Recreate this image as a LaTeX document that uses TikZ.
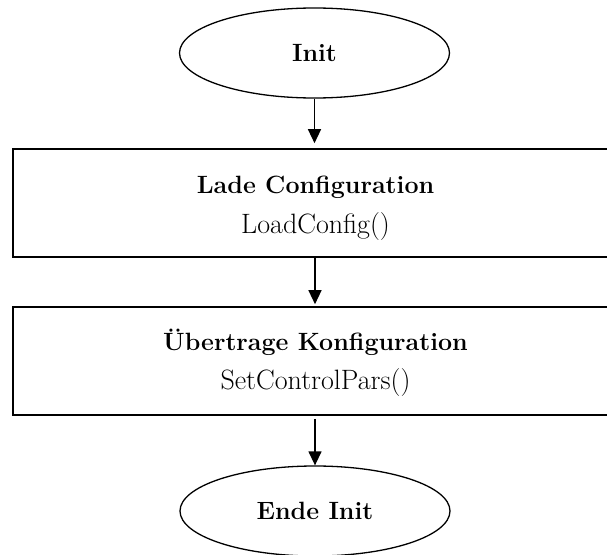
\documentclass[tikz,border=0pt]{standalone}
\usetikzlibrary{shapes.geometric,arrows.meta}
\begin{document}
\begin{tikzpicture}[x=1pt,y=-1pt,
  termnode/.style={ellipse, draw, line width=1.3pt, minimum width=270pt, minimum height=90pt, inner sep=0pt, font=\fontsize{25}{30}\selectfont\bfseries},
  procbox/.style={draw, line width=1.6pt, minimum width=605.6pt, minimum height=108pt, inner sep=0pt},
  headtxt/.style={anchor=base, inner sep=0pt, font=\fontsize{25}{30}\selectfont\bfseries},
  subtxt/.style={anchor=base, inner sep=0pt, font=\fontsize{28}{33}\selectfont},
  flow/.style={line width=1.3pt, -{Triangle[length=14pt,width=13pt]}}]
\useasboundingbox (0,0) rectangle (607,554);
\node[termnode] (init) at (314.5,53) {Init};
\node[procbox] (lade) at (315.5,203) {};
\node[headtxt] (ladeh) at (315.5,193) {Lade Configuration};
\node[subtxt] (ladef) at (315.5,233) {LoadConfig()};
\node[procbox] (ueber) at (315.5,361) {};
\node[headtxt] (ueberh) at (315.5,350) {Übertrage Konfiguration};
\node[subtxt] (ueberf) at (315.5,389) {SetControlPars()};
\node[termnode] (ende) at (315,511) {Ende Init};
\draw[flow, shorten >=5pt] (init.south) -- (init.south |- lade.north);
\draw[flow, shorten >=2pt] (lade.south -| ende.north) -- (ende.north |- ueber.north);
\draw[flow, shorten <=3pt] (ueber.south -| ende.north) -- (ende.north);
\end{tikzpicture}
\end{document}
